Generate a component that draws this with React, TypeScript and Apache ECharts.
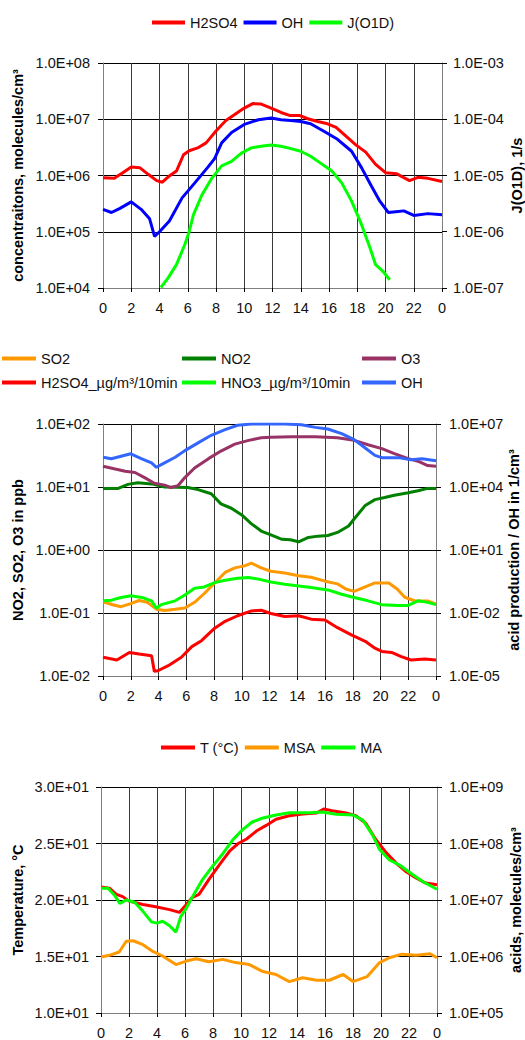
import React, { useEffect, useRef } from 'react';
import * as echarts from 'echarts';

// ---------- Chart 1: concentrations ----------
const topH2SO4: [number, number][] = [
  [0, 9.1e5], [0.8, 8.9e5], [1.4, 1.12e6], [2, 1.41e6], [2.6, 1.38e6], [3.2, 1.05e6], [3.8, 8.1e5],
  [4.2, 7.6e5], [4.7, 9.8e5], [5.2, 1.2e6], [5.7, 2.34e6], [6.1, 2.75e6], [6.7, 3.09e6], [7.3, 3.8e6],
  [8, 6.2e6], [8.7, 9.5e6], [9.3, 1.2e7], [10, 1.58e7], [10.6, 1.9e7], [11.2, 1.86e7], [11.9, 1.58e7],
  [12.6, 1.32e7], [13.2, 1.17e7], [13.9, 1.17e7], [14.5, 1.02e7], [15.2, 9.1e6], [15.9, 8.3e6],
  [16.5, 7.2e6], [17.2, 5.0e6], [17.9, 3.5e6], [18.6, 2.6e6], [19.3, 1.58e6], [20, 1.12e6],
  [20.8, 1.07e6], [21.7, 8.1e5], [22.3, 9.3e5], [23, 8.9e5], [24, 7.8e5]
];
const topOH: [number, number][] = [
  [0, 2.5e5], [0.6, 2.2e5], [1.2, 2.6e5], [2, 3.4e5], [2.7, 2.5e5], [3.3, 1.7e5], [3.65, 8.3e4],
  [4, 1.0e5], [4.7, 1.55e5], [5.6, 4.0e5], [6.5, 7.4e5], [7.4, 1.38e6], [7.9, 2.0e6], [8.4, 3.8e6],
  [9.1, 5.8e6], [10, 8.1e6], [11, 9.8e6], [11.9, 1.05e7], [12.6, 9.8e6], [13.3, 9.5e6], [14, 9.1e6],
  [14.7, 8.3e6], [15.7, 6.0e6], [16.6, 4.4e6], [17.6, 2.7e6], [18.3, 1.38e6], [19, 6.5e5],
  [19.6, 3.5e5], [20.2, 2.2e5], [20.9, 2.3e5], [21.3, 2.35e5], [22, 1.95e5], [23, 2.1e5], [24, 2.0e5]
];
const topJO1D: [number, number][] = [
  [4.1, 1.02e-7], [4.6, 1.5e-7], [5.2, 2.6e-7], [5.8, 6.0e-7], [6.1, 1.0e-6], [6.4, 2.0e-6],
  [7, 4.5e-6], [7.7, 8.9e-6], [8.4, 1.48e-5], [9.1, 1.78e-5], [9.8, 2.5e-5], [10.5, 3.1e-5],
  [11.2, 3.3e-5], [11.9, 3.5e-5], [12.6, 3.3e-5], [13.3, 3.0e-5], [14, 2.7e-5], [14.7, 2.2e-5],
  [15.4, 1.66e-5], [16.2, 1.2e-5], [16.9, 7.4e-6], [17.6, 3.5e-6], [18.3, 1.35e-6], [18.9, 5.2e-7],
  [19.3, 2.6e-7], [19.8, 2.0e-7], [20.3, 1.4e-7]
];

// ---------- Chart 2: trace gases / acid production ----------
const midSO2: [number, number][] = [
  [0, 0.151], [0.7, 0.135], [1.3, 0.126], [2, 0.141], [2.6, 0.158], [3.2, 0.148], [3.85, 0.115],
  [4.45, 0.11], [5.2, 0.115], [5.9, 0.12], [6.6, 0.148], [7.3, 0.204], [8.05, 0.3], [8.8, 0.44],
  [9.5, 0.52], [10.2, 0.56], [10.7, 0.62], [11.4, 0.52], [12.1, 0.46], [13.1, 0.43], [14.1, 0.39],
  [15, 0.37], [16, 0.32], [16.9, 0.29], [17.5, 0.24], [18.1, 0.22], [18.9, 0.26], [19.6, 0.3],
  [20.6, 0.3], [21.2, 0.24], [21.75, 0.178], [22.5, 0.155], [23.4, 0.155], [24, 0.138]
];
const midNO2: [number, number][] = [
  [0, 9.5], [1.1, 9.5], [1.8, 11.0], [2.5, 11.7], [3.5, 11.2], [4.45, 10.0], [6.1, 9.8], [6.85, 9.1],
  [7.8, 7.8], [8.5, 5.4], [9.25, 4.6], [10, 3.6], [10.7, 2.6], [11.4, 2.0], [12.1, 1.74], [12.9, 1.48],
  [13.5, 1.45], [14.1, 1.35], [14.8, 1.58], [15.5, 1.66], [16.2, 1.7], [16.9, 1.9], [17.7, 2.4],
  [18.1, 3.1], [18.9, 5.1], [19.6, 6.3], [20.3, 6.8], [21, 7.4], [22, 8.1], [22.7, 8.7], [23.4, 9.5], [24, 9.5]
];
const midO3: [number, number][] = [
  [0, 21.4], [0.8, 19.5], [1.6, 17.8], [2.3, 17.0], [3, 14.1], [3.7, 11.5], [4.45, 10.7], [4.9, 9.8],
  [5.4, 10.5], [5.9, 14.1], [6.6, 20.0], [7.6, 28.2], [8.5, 37.2], [9.5, 47.9], [10.5, 55], [11.4, 60.3],
  [12.1, 61.7], [13.6, 63], [15.3, 63], [16.9, 60.3], [18.1, 55], [19.1, 46.8], [20.1, 40.7],
  [21, 33.9], [22, 28.2], [22.7, 25.7], [23.4, 21.9], [24, 21.4]
];
const midH2SO4: [number, number][] = [
  [0, 7.8e-5], [1, 5.8e-5], [1.9, 1.32e-4], [2.6, 1.12e-4], [3.5, 9.3e-5], [3.7, 1.66e-5],
  [3.95, 1.78e-5], [4.7, 3.1e-5], [5.65, 7.8e-5], [6.4, 2.5e-4], [7.1, 4.8e-4], [8.05, 1.9e-3],
  [8.8, 4.0e-3], [9.7, 7.4e-3], [10.7, 0.0126], [11.4, 0.0135], [12.1, 9.5e-3], [13.1, 6.8e-3],
  [14.1, 7.4e-3], [15, 5.1e-3], [16, 4.6e-3], [16.9, 2.0e-3], [17.9, 9.1e-4], [18.9, 4.5e-4],
  [19.6, 2.1e-4], [20.1, 1.48e-4], [20.8, 1.32e-4], [21.5, 8.3e-5], [22.2, 5.8e-5], [23.2, 6.5e-5], [24, 5.8e-5]
];
const midHNO3: [number, number][] = [
  [0, 0.038], [0.6, 0.041], [1.3, 0.055], [2, 0.066], [2.8, 0.055], [3.5, 0.038], [3.85, 0.017],
  [4.2, 0.025], [5.2, 0.038], [5.9, 0.072], [6.6, 0.151], [7.3, 0.174], [8.05, 0.28], [8.8, 0.36],
  [9.7, 0.45], [10.5, 0.49], [11.2, 0.41], [12.1, 0.3], [13.1, 0.234], [14.1, 0.195], [15, 0.162],
  [16.2, 0.126], [17.2, 0.078], [18.1, 0.055], [19.1, 0.038], [20.1, 0.025], [21.3, 0.023],
  [22, 0.023], [22.7, 0.038], [23.4, 0.032], [24, 0.025]
];
const midOH: [number, number][] = [
  [0, 2.6e5], [0.6, 2.2e5], [1.3, 2.9e5], [2, 3.8e5], [2.8, 2.2e5], [3.5, 1.4e5], [3.85, 8.7e4],
  [4.3, 1.26e5], [5.2, 2.6e5], [5.9, 5.4e5], [6.85, 1.26e6], [7.8, 2.9e6], [8.8, 5.4e6], [9.7, 8.7e6],
  [10.7, 1.0e7], [11.7, 1.0e7], [13.1, 1.0e7], [14.3, 9.3e6], [15.3, 6.9e6], [16.2, 5.8e6],
  [17.2, 3.5e6], [18.1, 1.8e6], [18.9, 7.2e5], [19.6, 3.2e5], [20.1, 2.5e5], [21.3, 2.5e5],
  [22.2, 2.0e5], [23, 2.2e5], [24, 1.8e5]
];

// ---------- Chart 3: temperature / acids ----------
const botT: [number, number][] = [
  [0, 21.15], [0.6, 21.05], [1.1, 20.5], [1.55, 20.3], [2, 19.9], [3, 19.6], [3.9, 19.4], [4.9, 19.15],
  [5.6, 18.9], [6.1, 19.6], [6.5, 20.2], [7, 20.5], [7.7, 21.8], [8.45, 23.1], [9.2, 24.35], [9.8, 25.0],
  [10.4, 25.4], [11.1, 26.1], [11.8, 26.6], [12.5, 27.15], [13.45, 27.45], [14.4, 27.6], [15.4, 27.7],
  [15.9, 28.05], [16.5, 27.9], [17.5, 27.7], [18.2, 27.45], [18.9, 26.8], [19.6, 25.4], [20.4, 24.15],
  [21.1, 23.25], [21.8, 22.5], [22.5, 21.95], [23.2, 21.5], [24, 21.35]
];
const botMSA: [number, number][] = [
  [0, 9.8e5], [0.6, 1.05e6], [1.3, 1.2e6], [1.8, 1.86e6], [2.3, 1.9e6], [3, 1.62e6], [3.7, 1.23e6],
  [4.4, 1.02e6], [5.35, 7.2e5], [6.1, 8.3e5], [6.8, 9.1e5], [7.7, 8.1e5], [8.7, 8.9e5], [9.6, 7.8e5],
  [10.6, 7.2e5], [11.5, 5.5e5], [12.5, 4.8e5], [13.45, 3.6e5], [14.4, 4.2e5], [15.4, 3.8e5],
  [16.3, 3.8e5], [17.3, 4.8e5], [18, 3.6e5], [19, 4.4e5], [19.9, 7.8e5], [20.6, 9.5e5], [21.5, 1.1e6],
  [22.5, 1.05e6], [23.5, 1.12e6], [24, 9.5e5]
];
const botMA: [number, number][] = [
  [0, 1.62e7], [0.5, 1.62e7], [0.95, 1.23e7], [1.35, 8.7e6], [1.8, 1.0e7], [2.4, 9.1e6], [3, 6.3e6],
  [3.6, 4.1e6], [4, 3.9e6], [4.4, 4.2e6], [4.9, 3.5e6], [5.35, 2.7e6], [5.7, 5.1e6], [6.1, 7.2e6],
  [6.5, 1.1e7], [7.25, 2.3e7], [7.95, 3.9e7], [8.7, 6.6e7], [9.4, 1.15e8], [10.1, 1.74e8], [10.8, 2.4e8],
  [11.5, 2.8e8], [12.5, 3.2e8], [13.45, 3.5e8], [14.9, 3.5e8], [15.8, 3.6e8], [16.8, 3.3e8], [18, 3.2e8],
  [18.7, 2.6e8], [19.4, 1.41e8], [19.9, 7.8e7], [20.6, 5.1e7], [21.3, 4.2e7], [22.1, 3.0e7], [23, 2.1e7], [24, 1.55e7]
];

const FONT = "'Liberation Sans', Arial, sans-serif";
const TXT = '#111';
const FS = 14.5;

const logLabel = (v: number) => {
  const e = Math.round(Math.log10(v));
  return `1.0E${e < 0 ? '-' : '+'}${String(Math.abs(e)).padStart(2, '0')}`;
};

const makeX = (gridIndex: number) => ({
  type: 'value', gridIndex, min: 0, max: 24, interval: 2,
  axisLabel: { formatter: (v: number) => (v === 24 ? '0' : String(v)), color: TXT, fontSize: FS, fontFamily: FONT, margin: 12 },
  axisLine: { show: true, lineStyle: { color: '#808080' } },
  axisTick: { show: true, length: 4, lineStyle: { color: '#000' } },
  splitLine: { show: true, lineStyle: { color: '#3a3a3a', width: 1 } },
});

const nameStyle = { fontWeight: 'bold', fontSize: FS, color: '#000', fontFamily: FONT };
const labelStyle = (margin: number, formatter: any) => ({ color: TXT, fontSize: FS, fontFamily: FONT, margin, formatter });

const makeY = (gridIndex: number, position: 'left' | 'right', extra: any) => ({
  gridIndex, position,
  axisLine: { show: true, lineStyle: { color: '#808080' } },
  axisTick: { show: true, length: 5, lineStyle: { color: '#000' } },
  nameLocation: 'middle', nameRotate: 90, nameTextStyle: nameStyle, nameMoveOverlap: false,
  ...extra,
});

const line = (name: string, data: [number, number][], color: string, xAxisIndex: number, yAxisIndex: number) => ({
  type: 'line', name, data, xAxisIndex, yAxisIndex, showSymbol: false, symbol: 'none',
  lineStyle: { color, width: 3 }, itemStyle: { color }, z: 5,
});

const legendText = { color: TXT, fontSize: FS, fontFamily: FONT };
const oneLegend = (name: string, color: string, left: number, top: number) => ({
  left, top, padding: 0, icon: 'rect', itemWidth: 34, itemHeight: 4, itemGap: 6,
  textStyle: legendText, data: [{ name, itemStyle: { color } }],
});

export default function App() {
  const ref = useRef<HTMLDivElement>(null);
  useEffect(() => {
    if (!ref.current) return;
    const chart = echarts.init(ref.current, undefined, { renderer: 'svg' });
    const midRightLabel = (v: number) => {
      const e = Math.round(-5 + (Math.log10(v) + 2) * 3);
      return `1.0E${e < 0 ? '-' : '+'}${String(Math.abs(e)).padStart(2, '0')}`;
    };
    chart.setOption({
      animation: false,
      backgroundColor: '#fff',
      grid: [
        { left: 103, right: 83, top: 63, height: 225, containLabel: false, outerBoundsMode: 'none' },
        { left: 103, right: 89, top: 424, height: 252, containLabel: false, outerBoundsMode: 'none' },
        { left: 101, right: 88, top: 787, height: 226, containLabel: false, outerBoundsMode: 'none' },
      ],
      legend: [
        {
          left: 152, top: 15, padding: 0, icon: 'rect', itemWidth: 33, itemHeight: 4, itemGap: 6,
          textStyle: legendText,
          data: [
            { name: 'H2SO4', itemStyle: { color: '#ff0000' } },
            { name: 'OH', itemStyle: { color: '#0000ff' } },
            { name: 'J(O1D)', itemStyle: { color: '#00ff00' } },
          ],
        },
        oneLegend('SO2', '#ff9900', 2, 351),
        oneLegend('NO2', '#008000', 182, 351),
        oneLegend('O3', '#993366', 362, 351),
        oneLegend('H2SO4_µg/m³/10min', '#ff0000', 2, 375),
        oneLegend('HNO3_µg/m³/10min', '#00ff00', 182, 375),
        oneLegend('OH', '#3366ff', 362, 375),
        {
          left: 161, top: 740, padding: 0, icon: 'rect', itemWidth: 34, itemHeight: 4, itemGap: 6,
          textStyle: legendText,
          data: [
            { name: 'T (°C)', itemStyle: { color: '#ff0000' } },
            { name: 'MSA', itemStyle: { color: '#ff9900' } },
            { name: 'MA', itemStyle: { color: '#00ff00' } },
          ],
        },
      ],
      xAxis: [makeX(0), makeX(1), makeX(2)],
      yAxis: [
        makeY(0, 'left', {
          type: 'log', logBase: 10, min: 1e4, max: 1e8,
          name: 'concentraitons, molecules/cm³', nameGap: 78,
          axisLabel: labelStyle(13, logLabel),
          splitLine: { show: true, lineStyle: { color: '#000' } },
        }),
        makeY(0, 'right', {
          type: 'log', logBase: 10, min: 1e-7, max: 1e-3,
          name: 'J(O1D), 1/s', nameGap: 67,
          axisLabel: labelStyle(11, logLabel),
          splitLine: { show: false },
        }),
        makeY(1, 'left', {
          type: 'log', logBase: 10, min: 1e-2, max: 1e2,
          name: 'NO2, SO2, O3 in ppb', nameGap: 78,
          axisLabel: labelStyle(13, logLabel),
          splitLine: { show: true, lineStyle: { color: '#000' } },
        }),
        {
          gridIndex: 1, position: 'right', type: 'log', logBase: 10, min: 1e-5, max: 1e7, show: false,
          splitLine: { show: false },
        },
        makeY(1, 'right', {
          type: 'log', logBase: 10, min: 1e-2, max: 1e2,
          name: 'acid production / OH in 1/cm³', nameGap: 70,
          axisLabel: labelStyle(13, midRightLabel),
          splitLine: { show: false },
        }),
        makeY(2, 'left', {
          type: 'value', min: 10, max: 30, interval: 5,
          name: 'Temperature, °C', nameGap: 76,
          axisLabel: labelStyle(12, (v: number) => `${(v / 10).toFixed(1)}E+01`),
          splitLine: { show: true, lineStyle: { color: '#000' } },
        }),
        makeY(2, 'right', {
          type: 'log', logBase: 10, min: 1e5, max: 1e9,
          name: 'acids, molecules/cm³', nameGap: 71,
          axisLabel: labelStyle(12, logLabel),
          splitLine: { show: false },
        }),
      ],
      series: [
        line('H2SO4', topH2SO4, '#ff0000', 0, 0),
        line('OH', topOH, '#0000ff', 0, 0),
        line('J(O1D)', topJO1D, '#00ff00', 0, 1),
        line('SO2', midSO2, '#ff9900', 1, 2),
        line('NO2', midNO2, '#008000', 1, 2),
        line('O3', midO3, '#993366', 1, 2),
        line('H2SO4_µg/m³/10min', midH2SO4, '#ff0000', 1, 3),
        line('HNO3_µg/m³/10min', midHNO3, '#00ff00', 1, 3),
        line('OH', midOH, '#3366ff', 1, 3),
        line('T (°C)', botT, '#ff0000', 2, 5),
        line('MSA', botMSA, '#ff9900', 2, 6),
        line('MA', botMA, '#00ff00', 2, 6),
      ],
    });
    return () => chart.dispose();
  }, []);
  return <div ref={ref} style={{ position: 'absolute', left: 0, top: 0, width: 525, height: 1040 }} />;
}
